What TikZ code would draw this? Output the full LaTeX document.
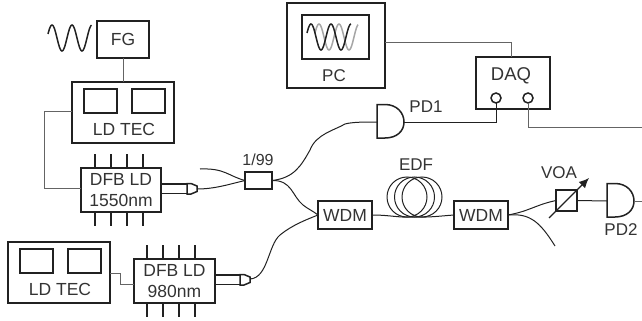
\documentclass[tikz,border=0pt]{standalone}
\usepackage{fontspec}
\setmainfont{Liberation Sans}
\usetikzlibrary{arrows.meta}
\definecolor{ink}{gray}{0.13}
\definecolor{txt}{gray}{0.2}
\tikzset{
  x=1pt,y=-1pt,
  box/.style={draw=ink,line width=1.5pt,minimum width=#1,inner sep=0,outer sep=0,font=\fontsize{17.5}{20}\selectfont,text=txt,align=center},
  lab/.style={text=txt,inner sep=0,font=\fontsize{17}{20}\selectfont},
  wire/.style={draw=ink!70,line width=1pt},
  fibre/.style={draw=ink,line width=1pt},
  pin/.style={draw=ink,line width=1.5pt},
  wave/.style={line width=1.5pt,smooth},
  coil/.style={circle,draw=ink,line width=1pt,minimum size=40pt,inner sep=0,outer sep=0}
}
\newcommand{\pins}[3]{\foreach \px in {0,16,32,48}{\draw[pin] ({#1+\px},{#2-14}) -- ({#1+\px},#2);\draw[pin] ({#1+\px},#3) -- ({#1+\px},{#3+14});}}
\begin{document}
\begin{tikzpicture}
\useasboundingbox (0,0) rectangle (642,321);
% function generator and first TEC
\draw[wave,ink,domain=48:91.5,samples=70] plot (\x,{38-13*cos((\x-52)*18)});
\node[box=52pt,minimum height=37pt] (fg) at (123,39.5) {FG};
\node[box=102pt,minimum height=61pt] (tec1) at (123,112.5) {};
\node[box=33pt,minimum height=24pt,draw=ink] (tec1a) at (100.5,101) {};
\node[box=33pt,minimum height=24pt] (tec1b) at (148.5,101) {};
\node[lab,font=\fontsize{17.5}{20}\selectfont] (tec1t) at (124,129) {LD TEC};
\draw[wire] (fg.south) -- (tec1.north -| fg.south);
% DFB 1550
\node[box=80pt,minimum height=44pt] (dfb1) at (121,190) {DFB LD\\[1pt]1550nm};
\pins{95}{168}{212}
\coordinate (kink1) at (44,111);
\draw[wire] (tec1.west |- kink1) -- (kink1) -- (44,188) -- (dfb1.west |- 44,188);
\node[box=26pt,minimum height=9.5pt] (con1) at (174.5,188.5) {};
\draw[draw=ink,line width=1.5pt] (187,183.5) -- (191,183.5) -- (197,186) -- (197,191.5) -- (191,194) -- (187,194) -- cycle;
\coordinate (tip1) at (197,189);
% coupler
\node[box=27pt,minimum height=17pt] (cpl) at (258.5,180.5) {};
\node[lab] (l199) at (258,160) {\fontsize{16}{18}\selectfont 1/99};
\coordinate (free1) at (200,169);
\draw[fibre] (tip1) .. controls (215,189) and (230,184) .. (cpl.west);
\draw[fibre] (free1) .. controls (225,168) and (228,176) .. (cpl.west);
% PD1
\coordinate (pd1in) at (377,122);
\coordinate (pd1out) at (404,122);
\draw[draw=ink,line width=1.5pt] (377,104.5) -- (385,104.5) .. controls (397,104.5) and (404,113) .. (pd1out) .. controls (404,131) and (397,138) .. (385,138) -- (377,138) -- cycle;
\node[lab] (pd1) at (426,106.5) {PD1};
\draw[fibre] (cpl.east) .. controls (294,178) and (301,166) .. (310,150) .. controls (316,134) and (335,130) .. (345,124) .. controls (352,122) and (365,122) .. (pd1in);
% WDMs
\node[box=54pt,minimum height=28pt] (wdm1) at (345,215) {WDM};
\node[box=54pt,minimum height=28pt] (wdm2) at (481,215) {WDM};
\draw[fibre] (cpl.east) .. controls (292,180) and (292,196) .. (303,205) .. controls (308,209) and (313,211) .. (wdm1.west);
\coordinate (fine2) at (318,215);
\node[box=81pt,minimum height=44pt] (dfb2) at (174.5,281) {DFB LD\\[1pt]980nm};
\pins{147}{259}{303}
\node[box=102pt,minimum height=61pt] (tec2) at (59,272.5) {};
\node[box=33pt,minimum height=24pt] (tec2a) at (36.5,261) {};
\node[box=33pt,minimum height=24pt] (tec2b) at (84.5,261) {};
\node[lab,font=\fontsize{17.5}{20}\selectfont] (tec2t) at (60,289) {LD TEC};
\draw[wire] (tec2.east |- 110,273) -- (120,273) -- (120,284) -- (dfb2.west |- 120,284);
\node[box=25pt,minimum height=9.5pt] (con2) at (228,279.5) {};
\draw[draw=ink,line width=1.5pt] (240,274.5) -- (244,274.5) -- (250,277) -- (250,282.5) -- (244,285) -- (240,285) -- cycle;
\coordinate (tip2) at (250,279);
\draw[fibre] (tip2) .. controls (268,278) and (268,245) .. (280,235) .. controls (292,225) and (308,219) .. (fine2);
% EDF
\node[coil] (c1) at (407,197) {};
\node[coil] (c2) at (414.5,197) {};
\node[coil] (c3) at (422,197) {};
\node[lab] (edf) at (416,165) {EDF};
\draw[fibre] (wdm1.east) .. controls (390,215) and (400,218) .. (c2.south) .. controls (430,217.5) and (440,216) .. (wdm2.west);
% VOA and PD2
\node[box=21pt,minimum height=21pt] (voa) at (566.5,200.5) {};
\node[lab] (voal) at (559,173) {VOA};
\coordinate (afrom) at (549,218);
\coordinate (ato) at (589,178);
\draw[draw=ink,line width=1.3pt,-{Latex[length=10pt,width=9pt]}] (afrom) -- (ato);
\draw[fibre] (wdm2.east) .. controls (530,211) and (535,205) .. (voa.west);
\coordinate (free2) at (555,246);
\draw[fibre] (wdm2.east) .. controls (530,213) and (540,222) .. (free2);
\coordinate (pd2in) at (607,201);
\coordinate (pd2out) at (634,201);
\draw[draw=ink,line width=1.5pt] (607,183.5) -- (615,183.5) .. controls (627,183.5) and (634,192) .. (pd2out) .. controls (634,210) and (627,217) .. (615,217) -- (607,217) -- cycle;
\node[lab] (pd2) at (621,230) {PD2};
\draw[fibre] (voa.east) -- (pd2in);
\coordinate (edge1) at (642,201);
\draw[wire] (pd2out) -- (edge1);
% PC and DAQ
\node[box=98pt,minimum height=85pt] (pc) at (336,45.5) {};
\node[box=67pt,minimum height=44pt] (scr) at (335.5,37) {};
\node[lab] (pct) at (334,76) {PC};
\draw[wave,gray!70,domain=315:358,samples=70] plot (\x,{37-13*cos((\x-319)*18)});
\draw[wave,ink,domain=307:351,samples=70] plot (\x,{37-13*cos((\x-311)*18)});
\node[box=74pt,minimum height=52pt] (daq) at (513,83) {};
\node[lab,font=\fontsize{18.5}{20}\selectfont] (daqt) at (511,76) {DAQ};
\node[circle,draw=ink,line width=1.5pt,minimum size=10pt,inner sep=0,outer sep=0] (p1) at (496,98) {};
\node[circle,draw=ink,line width=1.5pt,minimum size=10pt,inner sep=0,outer sep=0] (p2) at (528,98) {};
\coordinate (edge2) at (642,127);
\draw[wire] (pc.east |- 385,43) -- (511.5,43) -- (511.5,57);
\draw[draw=ink,line width=1pt] (pd1out) -- (p1.south |- pd1out) -- (p1.south);
\draw[wire] (p2.south) -- (p2.south |- edge2) -- (edge2);
\end{tikzpicture}
\end{document}
